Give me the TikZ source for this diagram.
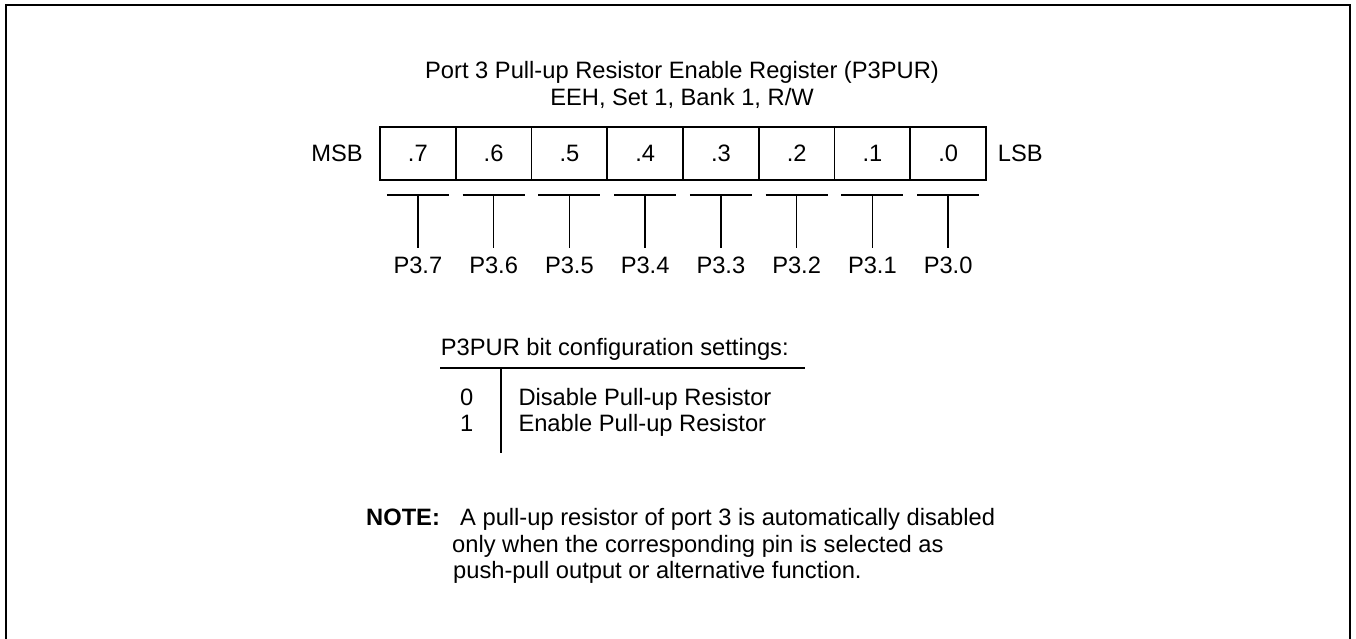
\documentclass[tikz,border=0pt]{standalone}
\usepackage{fontspec}
\setmainfont{Liberation Sans}
\begin{document}
\begin{tikzpicture}[x=1pt,y=-1pt,
  every node/.style={font=\fontsize{23.7}{27}\selectfont, inner sep=0pt},
  cellbox/.style={draw, line width=1.8pt, minimum width=75.75pt, minimum height=53pt},
  tickline/.style={line width=1.7pt},
  frameline/.style={line width=2.2pt},
  rule/.style={line width=1.7pt}]
\useasboundingbox (0,0) rectangle (1356,639);
% outer frame (open at the bottom)
\draw[frameline] (6,639) -- (6,5) -- (1350,5) -- (1350,639);
% title
\node[anchor=base] (title1) at (682,79) {Port 3 Pull-up Resistor Enable Register (P3PUR)};
\node[anchor=base] (title2) at (682,106) {EEH, Set 1, Bank 1, R/W};
% register cells
\foreach \i in {0,...,7}{
  \pgfmathsetmacro{\xc}{380+75.75*(7-\i)+37.875}
  \node[cellbox] (c\i) at (\xc,153.5) {.\i};
  \node[anchor=base] (p\i) at (\xc,273.3) {P3.\i};
  \coordinate (t\i) at (\xc,195);
  \draw[tickline] ([xshift=-31pt]t\i) -- ([xshift=31pt]t\i);
  \draw[tickline, shorten >=8.5pt] (t\i) -- (p\i.north);
}
\node[anchor=base east] (msb) at (363,162) {MSB};
\node[anchor=base west] (lsb) at (997.7,162) {LSB};
% configuration table
\node[anchor=base west] (hdr) at (440.7,355) {P3PUR bit configuration settings:};
\coordinate (hl) at (440,367.7);
\coordinate (hr) at (805,367.7);
\draw[rule] (hl) -- (hr);
\coordinate (vt) at (501,367.7);
\coordinate (vb) at (501,453);
\draw[rule] (vt) -- (vb);
\node[anchor=base] (v0) at (466.7,405) {0};
\node[anchor=base] (v1) at (466.7,431) {1};
\node[anchor=base west] (d0) at (518.3,405) {Disable Pull-up Resistor};
\node[anchor=base west] (d1) at (518.3,431) {Enable Pull-up Resistor};
% note
\node[anchor=base west] (note) at (366,525) {\bfseries NOTE:};
\node[anchor=base west] (n1) at (460,525) {A pull-up resistor of port 3 is automatically disabled};
\node[anchor=base west] (n2) at (452,552) {only when the corresponding pin is selected as};
\node[anchor=base west] (n3) at (453,578) {push-pull output or alternative function.};
\end{tikzpicture}
\end{document}
